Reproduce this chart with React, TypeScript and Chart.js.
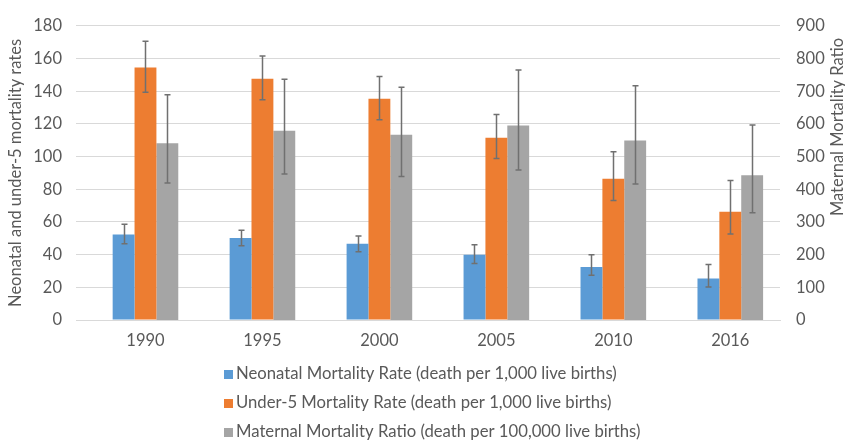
import React, { useEffect, useRef } from "react";
import { Chart, registerables } from "chart.js";

Chart.register(...registerables);

const years = ["1990", "1995", "2000", "2005", "2010", "2016"];

const neonatal = [52.4, 50.2, 46.6, 40.0, 32.4, 25.4];
const neonatalLow = [46.6, 45.4, 41.8, 34.6, 27.4, 20.2];
const neonatalHigh = [58.6, 55.0, 51.4, 46.0, 40.0, 34.0];

const under5 = [154.6, 147.6, 135.4, 111.6, 86.4, 66.2];
const under5Low = [139.4, 134.8, 122.6, 98.8, 73.2, 52.6];
const under5High = [170.6, 161.6, 149.0, 125.8, 103.0, 85.4];

const maternal = [541, 579, 567, 595, 549, 443];
const maternalLow = [419, 447, 439, 459, 416, 328];
const maternalHigh = [689, 737, 712, 765, 717, 597];

const seriesLabels = [
  "Neonatal Mortality Rate (death per 1,000 live births)",
  "Under-5 Mortality Rate (death per 1,000 live births)",
  "Maternal Mortality Ratio (death per 100,000 live births)",
];
const colors = ["#5B9BD5", "#ED7D31", "#A5A5A5"];

const leftTitle = "Neonatal and under-5 mortality rates";
const rightTitle = "Maternal Mortality Ratio";

const FONT = "Lato";
const TEXT = "#595959";

const errors = [
  { low: neonatalLow, high: neonatalHigh },
  { low: under5Low, high: under5High },
  { low: maternalLow, high: maternalHigh },
];

const errorBarPlugin = {
  id: "errorBars",
  afterDatasetsDraw(chart: any) {
    const ctx = chart.ctx;
    ctx.save();
    chart.data.datasets.forEach((ds: any, di: number) => {
      const meta = chart.getDatasetMeta(di);
      const yScale = chart.scales[ds.yAxisID];
      meta.data.forEach((bar: any, i: number) => {
        const x = Math.round(bar.x) + 0.5;
        const yl = yScale.getPixelForValue(errors[di].low[i]);
        const yh = yScale.getPixelForValue(errors[di].high[i]);
        ctx.strokeStyle = "#707070";
        ctx.lineWidth = 1.5;
        ctx.beginPath();
        ctx.moveTo(x, yl);
        ctx.lineTo(x, yh);
        ctx.moveTo(x - 3, yl);
        ctx.lineTo(x + 3, yl);
        ctx.moveTo(x - 3, yh);
        ctx.lineTo(x + 3, yh);
        ctx.stroke();
      });
    });
    ctx.restore();
  },
};

const extrasPlugin = {
  id: "extras",
  afterDraw(chart: any) {
    const ctx = chart.ctx;
    ctx.save();
    ctx.fillStyle = TEXT;
    ctx.font = `16.5px ${FONT}`;
    ctx.translate(838, 127);
    ctx.rotate(-Math.PI / 2);
    ctx.textAlign = "center";
    ctx.textBaseline = "middle";
    ctx.fillText(rightTitle, 0, 0);
    ctx.restore();

    ctx.save();
    ctx.font = `16.7px ${FONT}`;
    ctx.textBaseline = "middle";
    ctx.textAlign = "left";
    const rowY = [374, 403, 432];
    seriesLabels.forEach((label, i) => {
      ctx.fillStyle = colors[i];
      ctx.fillRect(224, rowY[i] - 4, 9, 9);
      ctx.fillStyle = TEXT;
      ctx.fillText(label, 236, rowY[i]);
    });
    ctx.restore();
  },
};

export default function App() {
  const ref = useRef<HTMLCanvasElement>(null);

  useEffect(() => {
    if (!ref.current) return;
    const toXY = (arr: number[]) => arr.map((v, i) => ({ x: i, y: v }));
    const chart = new Chart(ref.current, {
      type: "bar",
      data: {
        datasets: [
          { label: seriesLabels[0], data: toXY(neonatal), backgroundColor: colors[0], yAxisID: "y" },
          { label: seriesLabels[1], data: toXY(under5), backgroundColor: colors[1], yAxisID: "y" },
          { label: seriesLabels[2], data: toXY(maternal), backgroundColor: colors[2], yAxisID: "y1" },
        ] as any,
      },
      options: {
        animation: false,
        responsive: true,
        maintainAspectRatio: false,
        datasets: { bar: { categoryPercentage: 0.561, barPercentage: 1 } },
        layout: { padding: { top: 3, left: 0, right: 0, bottom: 0 } },
        plugins: { legend: { display: false }, tooltip: { enabled: false } },
        scales: {
          x: {
            type: "linear",
            offset: false,
            min: -0.594,
            max: 5.425,
            grid: { display: false, drawTicks: false },
            border: { color: "#d9d9d9", width: 1 },
            afterBuildTicks: (scale: any) => {
              scale.ticks = years.map((_, i) => ({ value: i }));
            },
            afterFit: (scale: any) => {
              scale.height = 124;
            },
            ticks: {
              autoSkip: false,
              maxRotation: 0,
              padding: 11,
              color: TEXT,
              font: { family: FONT, size: 16.5 },
              callback: (v: any) => years[v] ?? "",
            },
          },
          y: {
            position: "left",
            min: 0,
            max: 180,
            grid: { color: "#d9d9d9", drawTicks: false },
            border: { display: false },
            ticks: { stepSize: 20, padding: 14, color: TEXT, font: { family: FONT, size: 16.5 } },
            title: {
              display: true,
              text: leftTitle,
              color: TEXT,
              font: { family: FONT, size: 16.5 },
              padding: { top: 6, bottom: 0 },
            },
            afterFit: (scale: any) => {
              scale.width = 76;
            },
          },
          y1: {
            position: "right",
            min: 0,
            max: 900,
            grid: { display: false, drawTicks: false },
            border: { display: false },
            ticks: { stepSize: 100, padding: 16, color: TEXT, font: { family: FONT, size: 16.5 } },
            afterFit: (scale: any) => {
              scale.width = 65;
            },
          },
        },
      } as any,
      plugins: [errorBarPlugin, extrasPlugin],
    });
    return () => chart.destroy();
  }, []);

  return (
    <div style={{ position: "absolute", left: 0, top: 0, width: 845, height: 444, background: "#fff" }}>
      <canvas ref={ref} />
    </div>
  );
}
